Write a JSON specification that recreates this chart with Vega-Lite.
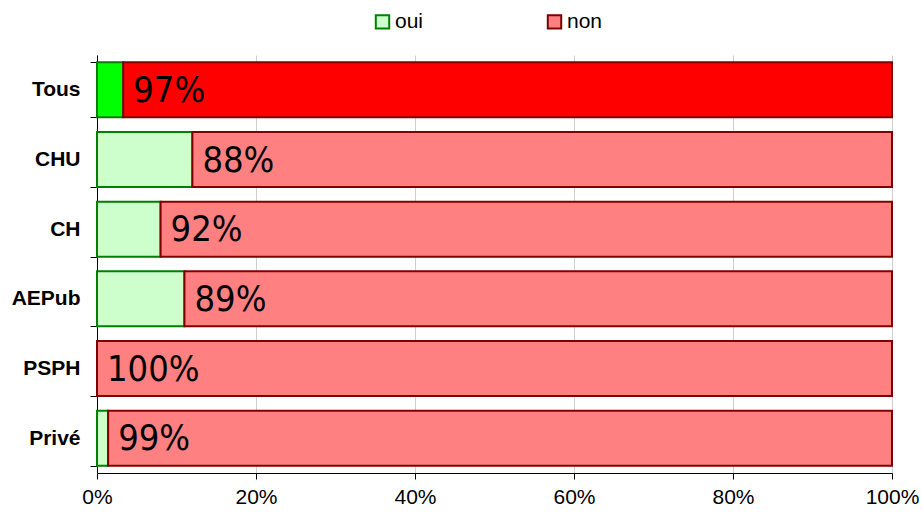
{
  "$schema": "https://vega.github.io/schema/vega-lite/v6.json",
  "width": 795,
  "height": 418,
  "autosize": "none",
  "padding": {"left": 97, "top": 55, "right": 30, "bottom": 40},
  "background": "white",
  "config": {"view": {"stroke": null}},
  "data": {
    "values": [
      {"cat": "Tous", "serie": "oui", "couleur": "oui_tous", "value": 0.033, "label": ""},
      {"cat": "Tous", "serie": "non", "couleur": "non_tous", "value": 0.967, "label": "97%"},
      {"cat": "CHU", "serie": "oui", "couleur": "oui", "value": 0.12, "label": ""},
      {"cat": "CHU", "serie": "non", "couleur": "non", "value": 0.88, "label": "88%"},
      {"cat": "CH", "serie": "oui", "couleur": "oui", "value": 0.08, "label": ""},
      {"cat": "CH", "serie": "non", "couleur": "non", "value": 0.92, "label": "92%"},
      {"cat": "AEPub", "serie": "oui", "couleur": "oui", "value": 0.11, "label": ""},
      {"cat": "AEPub", "serie": "non", "couleur": "non", "value": 0.89, "label": "89%"},
      {"cat": "PSPH", "serie": "oui", "couleur": "oui", "value": 0.0, "label": ""},
      {"cat": "PSPH", "serie": "non", "couleur": "non", "value": 1.0, "label": "100%"},
      {"cat": "Privé", "serie": "oui", "couleur": "oui", "value": 0.014, "label": ""},
      {"cat": "Privé", "serie": "non", "couleur": "non", "value": 0.986, "label": "99%"}
    ]
  },
  "transform": [
    {"stack": "value", "groupby": ["cat"], "as": ["v0", "v1"], "sort": [{"field": "serie", "order": "descending"}]}
  ],
  "layer": [
    {
      "mark": {"type": "bar", "strokeWidth": 2},
      "encoding": {
        "y": {
          "field": "cat", "type": "nominal",
          "sort": ["Tous", "CHU", "CH", "AEPub", "PSPH", "Privé"],
          "scale": {"paddingInner": 0.21, "paddingOuter": 0.105},
          "axis": {
            "title": null, "tickBand": "extent", "domainColor": "black", "tickColor": "black",
            "tickSize": 7, "labelFont": "Liberation Sans", "labelFontSize": 21, "labelFontWeight": "bold",
            "labelColor": "black", "labelPadding": 10
          }
        },
        "x": {
          "field": "v0", "type": "quantitative",
          "scale": {"domain": [0, 1], "nice": false},
          "axis": {
            "title": null, "format": "%", "values": [0, 0.2, 0.4, 0.6, 0.8, 1],
            "domainColor": "black", "tickColor": "black", "tickSize": 6,
            "gridColor": "#d0d0d0", "labelFont": "Liberation Sans", "labelFontSize": 21,
            "labelColor": "black", "labelPadding": 7, "labelFlush": false
          }
        },
        "x2": {"field": "v1"},
        "fill": {
          "field": "couleur", "type": "nominal",
          "scale": {"domain": ["oui", "non", "oui_tous", "non_tous"], "range": ["#CCFFCC", "#FF8080", "#00FF00", "#FF0000"]},
          "legend": {
            "values": ["oui", "non"], "title": null, "orient": "none", "direction": "horizontal",
            "legendX": 275, "legendY": -44, "symbolType": "square", "symbolSize": 180, "symbolStrokeWidth": 2,
            "labelFont": "Liberation Sans", "labelFontSize": 21, "labelColor": "black", "columnPadding": 119, "labelOffset": 2
          }
        },
        "stroke": {
          "field": "couleur", "type": "nominal",
          "scale": {"domain": ["oui", "non", "oui_tous", "non_tous"], "range": ["#008000", "#800000", "#008000", "#800000"]},
          "legend": {
            "values": ["oui", "non"], "title": null, "orient": "none", "direction": "horizontal",
            "legendX": 275, "legendY": -44, "symbolType": "square", "symbolSize": 180, "symbolStrokeWidth": 2,
            "labelFont": "Liberation Sans", "labelFontSize": 21, "labelColor": "black", "columnPadding": 119, "labelOffset": 2
          }
        }
      }
    },
    {
      "transform": [{"filter": "datum.serie == 'non'"}],
      "mark": {"type": "text", "align": "left", "baseline": "middle", "dx": 10, "dy": 1, "font": "DejaVu Sans Condensed", "fontSize": 36, "color": "black"},
      "encoding": {
        "y": {"field": "cat", "type": "nominal", "sort": ["Tous", "CHU", "CH", "AEPub", "PSPH", "Privé"]},
        "x": {"field": "v0", "type": "quantitative"},
        "text": {"field": "label"}
      }
    }
  ]
}
